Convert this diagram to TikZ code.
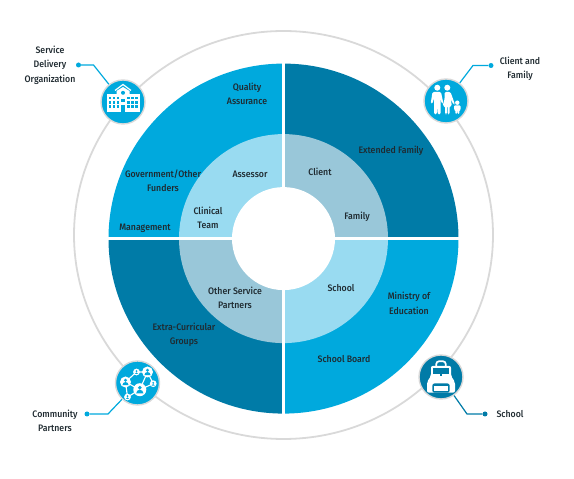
\documentclass[tikz,border=0pt]{standalone}
\usepackage{fontspec}
\setmainfont[FakeStretch=0.93]{Fira Sans Medium}
\definecolor{blueA}{HTML}{00A9DD}
\definecolor{blueB}{HTML}{007BA7}
\definecolor{paleA}{HTML}{99DBF1}
\definecolor{paleB}{HTML}{99C7D9}
\definecolor{ringgray}{HTML}{D9D9D9}
\definecolor{txt}{HTML}{1F2A30}
\tikzset{
 x=1pt,y=1pt,
 lab/.style={font=\fontsize{9.4}{14.4}\selectfont,text=txt,align=center,inner sep=0pt},
 badge/.style={circle,minimum size=44pt,inner sep=0pt,draw=ringgray,line width=1.4pt},
 conn/.style={line width=1.2pt},
 dotn/.style={circle,minimum size=5pt,inner sep=0pt},
 ico/.style={fill=white,draw=none}
}
\begin{document}
\begin{tikzpicture}
\useasboundingbox (0,0) rectangle (574,479);
\coordinate (c) at (283.5,240.4);
\coordinate (rc) at (283.5,244);
\draw[ringgray,line width=1.8pt] (rc) ellipse [x radius=209.5,y radius=204];
% outer quadrants
\fill[blueA] (c) -- ++(-175,0) arc[start angle=180,end angle=90,radius=175] -- cycle;
\fill[blueB] (c) -- ++(0,175) arc[start angle=90,end angle=0,radius=175] -- cycle;
\fill[blueB] (c) -- ++(-175,0) arc[start angle=180,end angle=270,radius=175] -- cycle;
\fill[blueA] (c) -- ++(0,-175) arc[start angle=270,end angle=360,radius=175] -- cycle;
% middle quadrants
\fill[paleA] (c) -- ++(-104.5,0) arc[start angle=180,end angle=90,radius=104.5] -- cycle;
\fill[paleB] (c) -- ++(0,104.5) arc[start angle=90,end angle=0,radius=104.5] -- cycle;
\fill[paleB] (c) -- ++(-104.5,0) arc[start angle=180,end angle=270,radius=104.5] -- cycle;
\fill[paleA] (c) -- ++(0,-104.5) arc[start angle=270,end angle=360,radius=104.5] -- cycle;
% dividers and hole
\draw[white,line width=2.2pt] (108,240.4) -- (459,240.4);
\draw[white,line width=2.2pt] (283.5,65) -- (283.5,416);
\node[circle,fill=white,minimum size=103pt,inner sep=0pt] (hole) at (c) {};
% labels in rings
\node[lab] (q) at (247,385) {Quality\\Assurance};
\node[lab] (g) at (163,298.5) {Government/Other\\Funders};
\node[lab] (m) at (145,251) {Management};
\node[lab] (a) at (250,305) {Assessor};
\node[lab] (ct) at (208,261) {Clinical\\Team};
\node[lab] (cl) at (320,307) {Client};
\node[lab] (f) at (357,262) {Family};
\node[lab] (ef) at (391,328) {Extended Family};
\node[lab] (s) at (341,191) {School};
\node[lab] (os) at (235,181) {Other Service\\Partners};
\node[lab] (me) at (409,175.5) {Ministry of\\Education};
\node[lab] (ec) at (184,144) {Extra-Curricular\\Groups};
\node[lab] (sb) at (344,120) {School Board};
% outside labels
\node[lab] (t1) at (50,414) {Service\\Delivery\\Organization};
\node[lab] (t2) at (520,410) {Client and\\Family};
\node[lab] (t3) at (55,58) {Community\\Partners};
\node[lab] (t4) at (510,65) {School};
% badges
\node[badge,fill=blueA] (b1) at (123,377) {};
\node[badge,fill=blueA] (b2) at (446,378) {};
\node[badge,fill=blueA] (b3) at (137.5,96) {};
\node[badge,fill=blueB] (b4) at (441,102) {};
% connectors
\node[dotn,fill=blueA] (d1) at (78.5,414) {};
\coordinate (k1) at (93.5,414);
\draw[conn,blueA] (d1) -- (k1) -- (b1);
\node[dotn,fill=blueA] (d2) at (491,413.5) {};
\coordinate (k2) at (473,413.5);
\draw[conn,blueA] (d2) -- (k2) -- (b2);
\node[dotn,fill=blueA] (d3) at (87,65) {};
\coordinate (k3) at (108,65);
\draw[conn,blueA] (d3) -- (k3) -- (b3);
\node[dotn,fill=blueB] (d4) at (485,65) {};
\coordinate (k4) at (467,65);
\draw[conn,blueB] (d4) -- (k4) -- (b4);
% building icon
\begin{scope}[shift={(b1.center)}]
 \fill[ico] (-16.5,-10) rectangle (16.5,7.7);
 \fill[ico] (-6.5,7) -- (-6.5,11) -- (0,15) -- (6.5,11) -- (6.5,7) -- cycle;
 \draw[white,line width=1.2pt] (-8,11.5) -- (0,17.5) -- (8,11.5);
 \fill[blueA] (0,9.2) circle (2);
 \foreach \x in {-14.5,-10.5,-6.5,4,8,12}
  \foreach \y in {2.5,-1.8,-6.1}
   \fill[blueA] (\x,\y) rectangle ++(2.6,2.8);
 \fill[blueA] (-1.6,-10) rectangle (1.6,-3.5);
 \fill[blueA] (-1.6,0) rectangle (1.6,2.8);
\end{scope}
% family icon
\begin{scope}[shift={(b2.center)}]
 \fill[ico] (-8.7,13.3) circle (3);
 \fill[ico,rounded corners=1.3pt] (-13.5,9) -- (-5,9) -- (-2.6,-2.5) -- (-4.4,-2.5) -- (-5.4,3) -- (-5.4,-13.3) -- (-8.3,-13.3) -- (-8.7,-3) -- (-9.1,-13.3) -- (-12,-13.3) -- (-12,3) -- (-13.4,-2.5) -- (-15.3,-2.5) -- cycle;
 \fill[ico] (1.3,13.3) circle (3);
 \fill[ico,rounded corners=1.3pt] (-1.5,9) -- (4.5,9) -- (9,-3.5) -- (7.5,-3.5) -- (4.5,2) -- (6,-5) -- (3.6,-5) -- (3.6,-13.3) -- (1.7,-13.3) -- (1.7,-5) -- (0.9,-5) -- (0.9,-13.3) -- (-1,-13.3) -- (-1,-5) -- (-3.4,-5) -- (-1.4,2) -- cycle;
 \fill[ico] (11.3,-1.7) circle (2.2);
 \fill[ico,rounded corners=1pt] (8,-4.5) -- (14.7,-4.5) -- (14.7,-9) -- (13.3,-9) -- (13.3,-13) -- (11.7,-13) -- (11.7,-9.5) -- (11,-9.5) -- (11,-13) -- (9.4,-13) -- (9.4,-9) -- (8,-9) -- cycle;
\end{scope}
% network icon
\begin{scope}[shift={(b3.center)}]
 \draw[white,line width=1.1pt] (-12,1) -- (-1,11) -- (10,11) -- (15.7,-0.7) -- (2.3,-6.7) -- (-10,-14) -- (-12,1) (10,11) -- (2.3,-6.7) (-12,1) -- (2.3,-6.7);
 \foreach \x/\y/\r in {-12/1/5.5,10/11/5.5,2.3/-6.7/6.5}{
  \fill[white] (\x,\y) circle (\r);
  \fill[blueA] (\x,\y+\r*0.3) circle (\r*0.3);
  \fill[blueA] (\x-\r*0.55,\y-\r*0.55) -- ++(\r*1.1,0) arc[start angle=0,end angle=180,radius=\r*0.55] -- cycle;
 }
 \foreach \x/\y in {-1/11,15.7/-0.7,-10/-14}{
  \fill[white] (\x,\y) circle (3.4);
  \fill[blueA] (\x,\y+.8) circle (1);
  \fill[blueA] (\x-1.6,\y-1.9) -- ++(3.2,0) arc[start angle=0,end angle=180,radius=1.6] -- cycle;
 }
\end{scope}
% backpack icon
\begin{scope}[shift={(b4.center)}]
 \draw[white,line width=1.7pt,rounded corners=3pt] (-4.8,10) -- (-4.8,15.8) -- (4.8,15.8) -- (4.8,10);
 \fill[white,rounded corners=2pt] (-10,11.2) -- (10,11.2) -- (10,1) -- (14,-5) -- (14,-15.7) -- (-14,-15.7) -- (-14,-5) -- (-10,1) -- cycle;
 \fill[blueB] (-8,9) rectangle (8,2.6);
 \fill[white] (-8,3.2) rectangle (8,1);
 \fill[blueB] (-1,3.8) rectangle (1,1.4);
 \fill[blueB,rounded corners=2pt] (-8.6,-15.7) -- (-8.6,-6.5) -- (8.6,-6.5) -- (8.6,-15.7) -- cycle;
 \fill[white] (-7,-14.2) rectangle (7,-9.5);
\end{scope}
\end{tikzpicture}
\end{document}
